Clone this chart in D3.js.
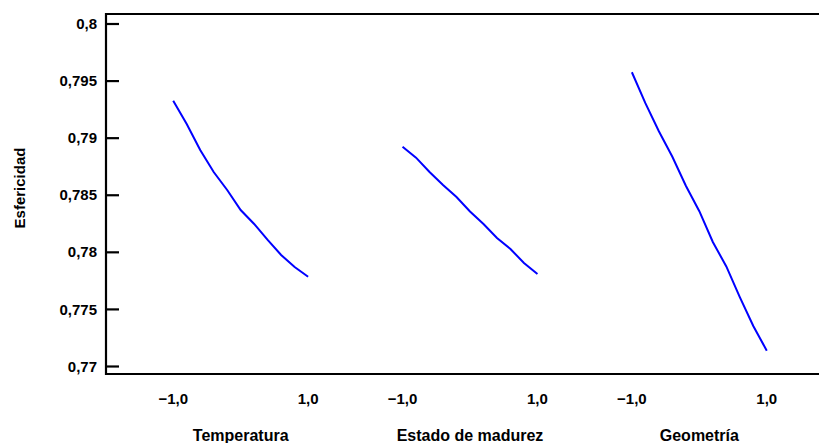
<!DOCTYPE html>
<html>
<head>
<meta charset="utf-8">
<script src="https://cdn.jsdelivr.net/npm/d3@7"></script>
<style>
  body { margin: 0; background: #fff; }
  svg text { font-family: "Liberation Sans", Arial, sans-serif; font-weight: bold; fill: #000; }
</style>
</head>
<body>
<div id="chart"></div>
<script>
// factors and the coded levels on each one
const factors = ["Temperatura", "Estado de madurez", "Geometría"];
const levels = [-1, -0.8, -0.6, -0.4, -0.2, 0, 0.2, 0.4, 0.6, 0.8, 1];

// predicted sphericity
const temperatura = [0.79324, 0.79120, 0.78892, 0.78699, 0.78542, 0.78366, 0.78244, 0.78104, 0.77972, 0.77867, 0.77782];
const madurez     = [0.78921, 0.78825, 0.78699, 0.78585, 0.78480, 0.78353, 0.78244, 0.78121, 0.78025, 0.77902, 0.77806];
const geometria   = [0.79573, 0.79302, 0.79056, 0.78833, 0.78579, 0.78356, 0.78086, 0.77872, 0.77604, 0.77350, 0.77134];

const yTicks = [0.77, 0.775, 0.78, 0.785, 0.79, 0.795, 0.8];
const xTicks = [-1, 1];

const series = [temperatura, madurez, geometria];

const width = 819, height = 443;
const frame = { left: 106, top: 14, right: 819, bottom: 374 };

const locale = d3.formatLocale({ decimal: ",", thousands: ".", grouping: [3], currency: ["", ""] });
const fmtY = locale.format(".3~f");
const fmtX = locale.format(".1f");

const svg = d3.select("#chart")
  .append("svg")
    .attr("width", width)
    .attr("height", height);

const yScale = d3.scaleLinear()
  .domain([0.77, 0.8])
  .range([366, 23.5]);

// one band per factor, each with its own -1..1 scale
const xBand = d3.scaleBand()
  .domain(factors)
  .range([126, 814]);

const xInner = d3.scaleLinear()
  .domain([-1.7, 1.7])
  .range([0, xBand.bandwidth()]);

// frame lines
svg.append("line")
  .attr("x1", frame.left).attr("x2", frame.right)
  .attr("y1", frame.top).attr("y2", frame.top)
  .attr("stroke", "#000").attr("stroke-width", 2.2);
svg.append("line")
  .attr("x1", frame.left).attr("x2", frame.right)
  .attr("y1", frame.bottom).attr("y2", frame.bottom)
  .attr("stroke", "#000").attr("stroke-width", 2.2);
svg.append("line")
  .attr("x1", frame.left).attr("x2", frame.left)
  .attr("y1", frame.top - 1).attr("y2", frame.bottom + 1)
  .attr("stroke", "#000").attr("stroke-width", 2.2);

// y axis
const yAxis = svg.append("g")
  .attr("transform", "translate(" + frame.left + ",0)")
  .call(d3.axisLeft(yScale)
        .tickValues(yTicks)
        .tickFormat(fmtY)
        .tickSizeInner(-13)
        .tickSizeOuter(0)
        .tickPadding(22));
yAxis.select(".domain").remove();
yAxis.selectAll(".tick line").attr("stroke", "#000").attr("stroke-width", 2.2);
yAxis.selectAll(".tick text")
  .style("font-size", "15px")
  .attr("x", -9)
  .attr("dy", "0.34em");

// y label
svg.append("text")
  .attr("transform", "translate(25,188) rotate(-90)")
  .attr("text-anchor", "middle")
  .style("font-size", "15px")
  .text("Esfericidad");

// one panel per factor
factors.forEach(function(f, i) {
  const g = svg.append("g")
    .attr("transform", "translate(" + xBand(f) + ",0)");

  g.selectAll(".xt")
    .data(xTicks)
    .enter()
    .append("text")
      .attr("x", function(d) { return xInner(d); })
      .attr("y", 404)
      .attr("text-anchor", "middle")
      .style("font-size", "15px")
      .text(function(d) { return fmtX(d); });

  g.append("text")
    .attr("x", xBand.bandwidth() / 2)
    .attr("y", 441)
    .attr("text-anchor", "middle")
    .style("font-size", "16px")
    .text(f);

  const line = d3.line()
    .x(function(d, j) { return xInner(levels[j]); })
    .y(function(d) { return yScale(d); });

  g.append("path")
    .datum(series[i])
    .attr("d", line)
    .attr("fill", "none")
    .attr("stroke", "#0000ff")
    .attr("stroke-width", 2);
});
</script>
</body>
</html>
